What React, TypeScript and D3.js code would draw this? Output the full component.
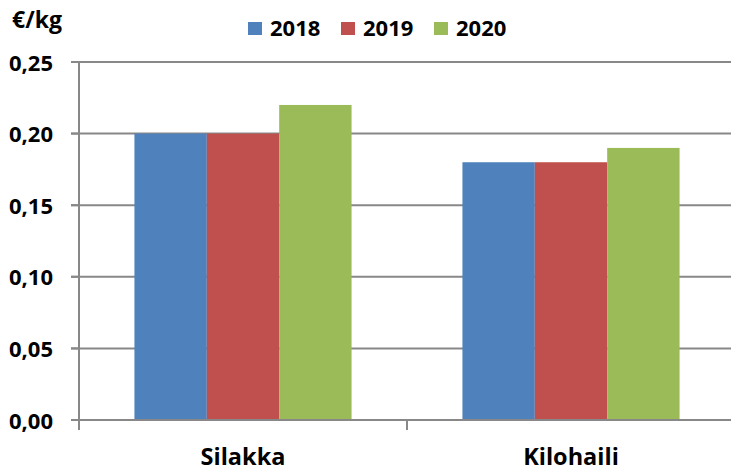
import * as d3 from "d3";

const categories = ["Silakka", "Kilohaili"];
const years = ["2018", "2019", "2020"];
const values2018 = [0.2, 0.18];
const values2019 = [0.2, 0.18];
const values2020 = [0.22, 0.19];
const yTicks = [0, 0.05, 0.1, 0.15, 0.2, 0.25];
const colors = ["#4F81BD", "#C0504D", "#9BBB59"];

const series = [values2018, values2019, values2020];

const App = () => {
  const width = 731;
  const height = 472;
  const left = 79;
  const right = 735;
  const top = 62;
  const bottom = 420;
  const font = "'Open Sans', sans-serif";
  const axisColor = "#888888";

  const x0 = d3.scaleBand().domain(categories).range([left, right]).padding(0);
  const bw = x0.bandwidth();
  const x1 = d3.scaleBand().domain(years).range([bw * 0.169, bw * 0.831]).padding(0);
  const y = d3.scaleLinear().domain([0, 0.25]).range([bottom, top]);
  const fmt = (v: number) => v.toFixed(2).replace(".", ",");

  return (
    <svg width={width} height={height} style={{ position: "absolute", left: 0, top: 0 }}>
      {/* gridlines */}
      {yTicks.slice(1).map((t) => (
        <line key={t} x1={left - 8} x2={width} y1={y(t)} y2={y(t)} stroke={axisColor} strokeWidth={2} />
      ))}
      {/* bars */}
      {categories.map((c, ci) =>
        series.map((s, si) => (
          <rect
            key={c + si}
            x={(x0(c) ?? 0) + (x1(years[si]) ?? 0)}
            y={y(s[ci])}
            width={x1.bandwidth()}
            height={y(0) - y(s[ci])}
            fill={colors[si]}
          />
        ))
      )}
      {/* y axis */}
      <line x1={left} x2={left} y1={top} y2={bottom + 10} stroke={axisColor} strokeWidth={2} />
      {yTicks.map((t) => (
        <g key={"l" + t}>
          <line x1={left - 8} x2={left} y1={y(t)} y2={y(t)} stroke={axisColor} strokeWidth={2} />
          <text x={53} y={y(t) + 8.5} textAnchor="end" fontFamily={font} fontWeight="bold" fontSize={22} fill="#000">
            {fmt(t)}
          </text>
        </g>
      ))}
      {/* x axis */}
      <line x1={left - 8} x2={width} y1={y(0)} y2={y(0)} stroke={axisColor} strokeWidth={2} />
      {categories.map((c, i) =>
        i > 0 ? (
          <line key={"t" + c} x1={x0(c)} x2={x0(c)} y1={y(0)} y2={y(0) + 10} stroke={axisColor} strokeWidth={2} />
        ) : null
      )}
      {categories.map((c) => (
        <text
          key={"c" + c}
          x={(x0(c) ?? 0) + bw * 0.5}
          y={465}
          textAnchor="middle"
          fontFamily={font}
          fontWeight="bold"
          fontSize={23.5}
          fill="#000"
        >
          {c}
        </text>
      ))}
      {/* unit */}
      <text x={12} y={28} fontFamily={font} fontWeight="bold" fontSize={23} fill="#000">
        €/kg
      </text>
      {/* legend */}
      {years.map((yr, i) => (
        <g key={"lg" + yr} transform={`translate(${248 + i * 93},0)`}>
          <rect x={0} y={22} width={14} height={13} fill={colors[i]} />
          <text x={22} y={36} fontFamily={font} fontWeight="bold" fontSize={22} fill="#000">
            {yr}
          </text>
        </g>
      ))}
    </svg>
  );
};

export default App;
